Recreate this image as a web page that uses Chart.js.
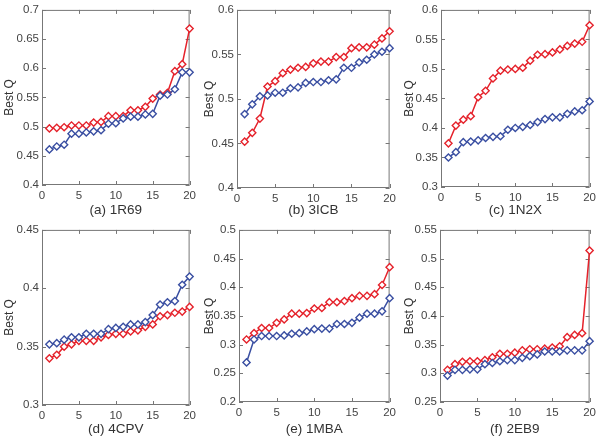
<!DOCTYPE html>
<html>
<head>
<meta charset="utf-8">
<script src="https://cdn.jsdelivr.net/npm/chart.js@4"></script>
<style>
  body { margin: 0; background: #fff; width: 600px; height: 437px; position: relative; overflow: hidden; }
  canvas { position: absolute; }
</style>
</head>
<body>
<script>
// run index on the x axis
const runs = [1, 2, 3, 4, 5, 6, 7, 8, 9, 10, 11, 12, 13, 14, 15, 16, 17, 18, 19, 20];
const xTicks = [0, 5, 10, 15, 20];

const captions = ['(a) 1R69', '(b) 3ICB', '(c) 1N2X', '(d) 4CPV', '(e) 1MBA', '(f) 2EB9'];

// y tick labels per panel
const yTicksA = [0.4, 0.45, 0.5, 0.55, 0.6, 0.65, 0.7];
const yTicksB = [0.4, 0.45, 0.5, 0.55, 0.6];
const yTicksC = [0.3, 0.35, 0.4, 0.45, 0.5, 0.55, 0.6];
const yTicksD = [0.3, 0.35, 0.4, 0.45];
const yTicksE = [0.2, 0.25, 0.3, 0.35, 0.4, 0.45, 0.5];
const yTicksF = [0.25, 0.3, 0.35, 0.4, 0.45, 0.5, 0.55];

// best Q values, red and blue series
const redA  = [0.497, 0.498, 0.499, 0.502, 0.502, 0.502, 0.507, 0.508, 0.518, 0.518, 0.518, 0.528, 0.528, 0.534, 0.548, 0.555, 0.558, 0.595, 0.607, 0.668];
const blueA = [0.461, 0.466, 0.469, 0.488, 0.488, 0.490, 0.492, 0.494, 0.505, 0.506, 0.514, 0.517, 0.517, 0.521, 0.522, 0.553, 0.555, 0.564, 0.593, 0.593];

const redB  = [0.452, 0.462, 0.478, 0.514, 0.520, 0.529, 0.533, 0.535, 0.536, 0.540, 0.542, 0.542, 0.547, 0.547, 0.557, 0.558, 0.558, 0.561, 0.568, 0.576];
const blueB = [0.483, 0.494, 0.503, 0.504, 0.507, 0.507, 0.512, 0.513, 0.518, 0.519, 0.519, 0.521, 0.522, 0.535, 0.535, 0.541, 0.544, 0.550, 0.553, 0.557];

const redC  = [0.374, 0.404, 0.414, 0.420, 0.452, 0.463, 0.484, 0.497, 0.499, 0.500, 0.502, 0.514, 0.524, 0.525, 0.528, 0.533, 0.539, 0.543, 0.546, 0.574];
const blueC = [0.350, 0.359, 0.376, 0.377, 0.379, 0.383, 0.385, 0.386, 0.397, 0.400, 0.402, 0.405, 0.410, 0.415, 0.418, 0.418, 0.424, 0.428, 0.430, 0.445];

const redD  = [0.340, 0.343, 0.350, 0.352, 0.355, 0.355, 0.355, 0.358, 0.360, 0.361, 0.361, 0.363, 0.364, 0.367, 0.369, 0.376, 0.377, 0.379, 0.380, 0.384];
const blueD = [0.352, 0.353, 0.356, 0.358, 0.358, 0.361, 0.361, 0.361, 0.365, 0.366, 0.367, 0.369, 0.369, 0.371, 0.377, 0.386, 0.388, 0.389, 0.403, 0.410];

const redE  = [0.309, 0.320, 0.329, 0.329, 0.338, 0.344, 0.354, 0.354, 0.355, 0.363, 0.364, 0.374, 0.374, 0.376, 0.381, 0.385, 0.385, 0.388, 0.404, 0.435];
const blueE = [0.269, 0.309, 0.315, 0.315, 0.315, 0.316, 0.319, 0.320, 0.323, 0.327, 0.328, 0.328, 0.336, 0.336, 0.338, 0.347, 0.354, 0.354, 0.358, 0.381];

const redF  = [0.306, 0.316, 0.320, 0.321, 0.321, 0.323, 0.328, 0.334, 0.334, 0.336, 0.340, 0.342, 0.342, 0.343, 0.345, 0.347, 0.363, 0.367, 0.370, 0.514];
const blueF = [0.296, 0.306, 0.306, 0.307, 0.307, 0.316, 0.318, 0.321, 0.323, 0.323, 0.327, 0.330, 0.333, 0.338, 0.338, 0.338, 0.340, 0.340, 0.340, 0.356];

const RED = '#e5222b';
const BLUE = '#3a4fa2';
const TEXT = '#444';
const EDGE = '#777';

// cell = canvas box, area = plot frame (left, top, right, bottom) in page px
const panels = [
  { cell: [0, 0, 200, 220],     area: [42, 6, 193, 185],    yTicks: yTicksA, red: redA, blue: blueA, capPad: 2 },
  { cell: [200, 0, 200, 220],   area: [237, 8, 396, 188],   yTicks: yTicksB, red: redB, blue: blueB, capPad: 2 },
  { cell: [400, 0, 200, 220],   area: [441, 7, 592, 187],   yTicks: yTicksC, red: redC, blue: blueC, capPad: 2 },
  { cell: [0, 220, 200, 217],   area: [42, 222, 197, 405],  yTicks: yTicksD, red: redD, blue: blueD, capPad: 0 },
  { cell: [200, 220, 200, 217], area: [239, 223, 391, 402], yTicks: yTicksE, red: redE, blue: blueE, capPad: 0 },
  { cell: [400, 220, 200, 217], area: [440, 225, 591, 402], yTicks: yTicksF, red: redF, blue: blueF, capPad: 0 }
];

// box frame with inward tick marks, matlab style
const frame = {
  id: 'frame',
  beforeDatasetsDraw(chart) {
    const { ctx, chartArea: a, scales: { x, y } } = chart;
    ctx.save();
    ctx.strokeStyle = EDGE;
    ctx.lineWidth = 1;
    ctx.strokeRect(a.left + 0.5, a.top + 0.5, a.right - a.left - 1, a.bottom - a.top - 1);
    ctx.beginPath();
    x.ticks.forEach(t => {
      const px = Math.round(x.getPixelForValue(t.value)) + 0.5;
      ctx.moveTo(px, a.bottom); ctx.lineTo(px, a.bottom - 4);
      ctx.moveTo(px, a.top); ctx.lineTo(px, a.top + 4);
    });
    y.ticks.forEach(t => {
      const py = Math.round(y.getPixelForValue(t.value)) + 0.5;
      ctx.moveTo(a.left, py); ctx.lineTo(a.left + 4, py);
      ctx.moveTo(a.right, py); ctx.lineTo(a.right - 4, py);
    });
    ctx.stroke();
    ctx.restore();
  }
};

function series(values, color) {
  return {
    data: runs.map((r, i) => ({ x: r, y: values[i] })),
    borderColor: color,
    backgroundColor: '#fff',
    borderWidth: 1.5,
    pointStyle: 'rectRot',
    pointRadius: 3.6,
    pointBorderWidth: 1.4,
    pointBackgroundColor: '#fff',
    tension: 0,
    clip: false
  };
}

panels.forEach((p, i) => {
  const [cx, cy, cw, ch] = p.cell;
  const [l, t, r, b] = p.area;
  const canvas = document.createElement('canvas');
  canvas.width = cw;
  canvas.height = ch;
  canvas.style.left = cx + 'px';
  canvas.style.top = cy + 'px';
  canvas.style.width = cw + 'px';
  canvas.style.height = ch + 'px';
  document.body.appendChild(canvas);

  new Chart(canvas.getContext('2d'), {
    type: 'line',
    data: { datasets: [series(p.blue, BLUE), series(p.red, RED)] },
    options: {
      responsive: false,
      animation: false,
      devicePixelRatio: 1,
      layout: { padding: { left: 0, top: t - cy, right: cx + cw - r, bottom: 0 } },
      plugins: { legend: { display: false }, tooltip: { enabled: false } },
      scales: {
        x: {
          type: 'linear',
          min: 0,
          max: 20,
          afterBuildTicks: s => { s.ticks = xTicks.map(v => ({ value: v })); },
          afterFit: s => { s.height = cy + ch - b; },
          grid: { display: false, drawTicks: false },
          border: { display: false },
          ticks: { padding: 4, color: TEXT, font: { family: 'Liberation Sans', size: 11.5 }, maxRotation: 0 },
          title: {
            display: true,
            text: captions[i],
            color: '#333',
            font: { family: 'Liberation Sans', size: 13.5 },
            padding: { top: 0, bottom: p.capPad }
          }
        },
        y: {
          type: 'linear',
          min: p.yTicks[0],
          max: p.yTicks[p.yTicks.length - 1],
          afterBuildTicks: s => { s.ticks = p.yTicks.map(v => ({ value: v })); },
          afterFit: s => { s.width = l - cx; },
          grid: { display: false, drawTicks: false },
          border: { display: false },
          ticks: { padding: 3, color: TEXT, font: { family: 'Liberation Sans', size: 11.5 }, callback: v => String(v) },
          title: {
            display: true,
            text: 'Best Q',
            color: '#333',
            font: { family: 'Liberation Sans', size: 12 },
            padding: { top: 2, bottom: 0 }
          }
        }
      }
    },
    plugins: [frame]
  });
});
</script>
</body>
</html>
